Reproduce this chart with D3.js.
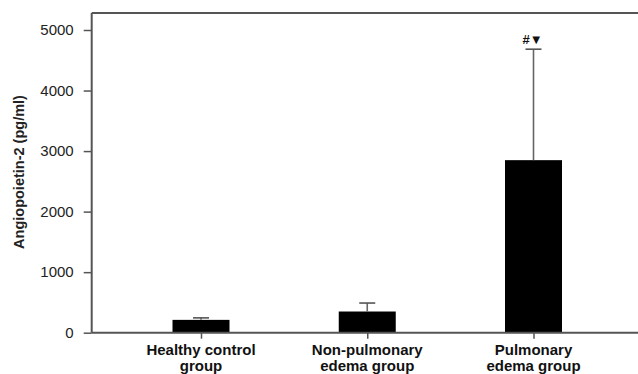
<!DOCTYPE html>
<html>
<head>
<meta charset="utf-8">
<script src="https://cdn.jsdelivr.net/npm/d3@7"></script>
<style>
html,body{margin:0;padding:0;background:#fff;}
svg{display:block;font-family:"Liberation Sans",Arial,sans-serif;}
</style>
</head>
<body>
<svg id="chart" width="638" height="374"></svg>
<script>
const categories = [["Healthy control","group"],["Non-pulmonary","edema group"],["Pulmonary","edema group"]];
const means = [212, 350, 2850];
const errUpper = [245, 490, 4683];
const yTicks = [0,1000,2000,3000,4000,5000];
const annotations = ["", "", "#\u25BC"];

const svg = d3.select("#chart");
const pLeft = 91.7, pRight = 638, pTop = 13, pBottom = 332.7;
const y = d3.scaleLinear().domain([0, 5000]).range([pBottom, 30]);
const x = d3.scalePoint().domain(d3.range(categories.length)).range([201, 533.5]);
const barW = 57, capW = 16;

// top frame
svg.append("line").attr("x1", pLeft).attr("x2", pRight).attr("y1", pTop).attr("y2", pTop)
  .attr("stroke", "#555").attr("stroke-width", 2);

// bars
svg.selectAll("rect.bar").data(means).join("rect")
  .attr("x", (d,i) => x(i) - barW/2).attr("width", barW)
  .attr("y", d => y(d)).attr("height", d => pBottom - y(d))
  .attr("fill", "#000");

// error bars
const eg = svg.selectAll("g.err").data(errUpper).join("g");
eg.append("line").attr("x1", (d,i)=>x(i)).attr("x2",(d,i)=>x(i))
  .attr("y1", (d,i)=>y(means[i])).attr("y2", d=>y(d))
  .attr("stroke", "#666").attr("stroke-width", 1.6);
eg.append("line").attr("x1", (d,i)=>x(i)-capW/2).attr("x2",(d,i)=>x(i)+capW/2)
  .attr("y1", d=>y(d)).attr("y2", d=>y(d))
  .attr("stroke", "#555").attr("stroke-width", 1.6);

// annotations
svg.selectAll("text.ann").data(annotations).join("text")
  .attr("x", (d,i)=>x(i) - 1).attr("y", (d,i)=>y(errUpper[i]) - 5.5)
  .attr("text-anchor","middle").attr("font-size", 13).attr("font-weight","bold")
  .attr("fill","#111").text(d=>d);

// y axis
const yAxis = d3.axisLeft(y).tickValues(yTicks).tickSize(8).tickPadding(10).tickFormat(d3.format("d"));
const gy = svg.append("g").attr("transform", `translate(${pLeft},0)`).call(yAxis);
gy.select(".domain").attr("d", `M0,${pTop}V${pBottom}`).attr("stroke","#555").attr("stroke-width",2);
gy.selectAll(".tick line").attr("stroke","#555").attr("stroke-width",1.5);
gy.selectAll(".tick text").attr("font-size",15).attr("fill","#222").attr("font-family","Liberation Sans, Arial, sans-serif");

// x axis
const xAxis = d3.axisBottom(x).tickSize(6).tickFormat("");
const gx = svg.append("g").attr("transform", `translate(0,${pBottom})`).call(xAxis);
gx.select(".domain").attr("d", `M${pLeft},0H${pRight}`).attr("stroke","#555").attr("stroke-width",2);
gx.selectAll(".tick line").attr("stroke","#555").attr("stroke-width",1.5);

// x labels
const xl = svg.selectAll("text.xl").data(categories).join("text")
  .attr("text-anchor","middle").attr("font-size",15).attr("font-weight","bold").attr("fill","#111");
xl.each(function(d,i){
  const t = d3.select(this);
  d.forEach((line,j)=>{
    t.append("tspan").attr("x", x(i)).attr("y", 355 + j*15.5).text(line);
  });
});

// y label
svg.append("text").attr("transform", `translate(23.5,172) rotate(-90)`)
  .attr("text-anchor","middle").attr("font-size",14.5).attr("font-weight","bold").attr("fill","#222")
  .text("Angiopoietin-2 (pg/ml)");
</script>
</body>
</html>
